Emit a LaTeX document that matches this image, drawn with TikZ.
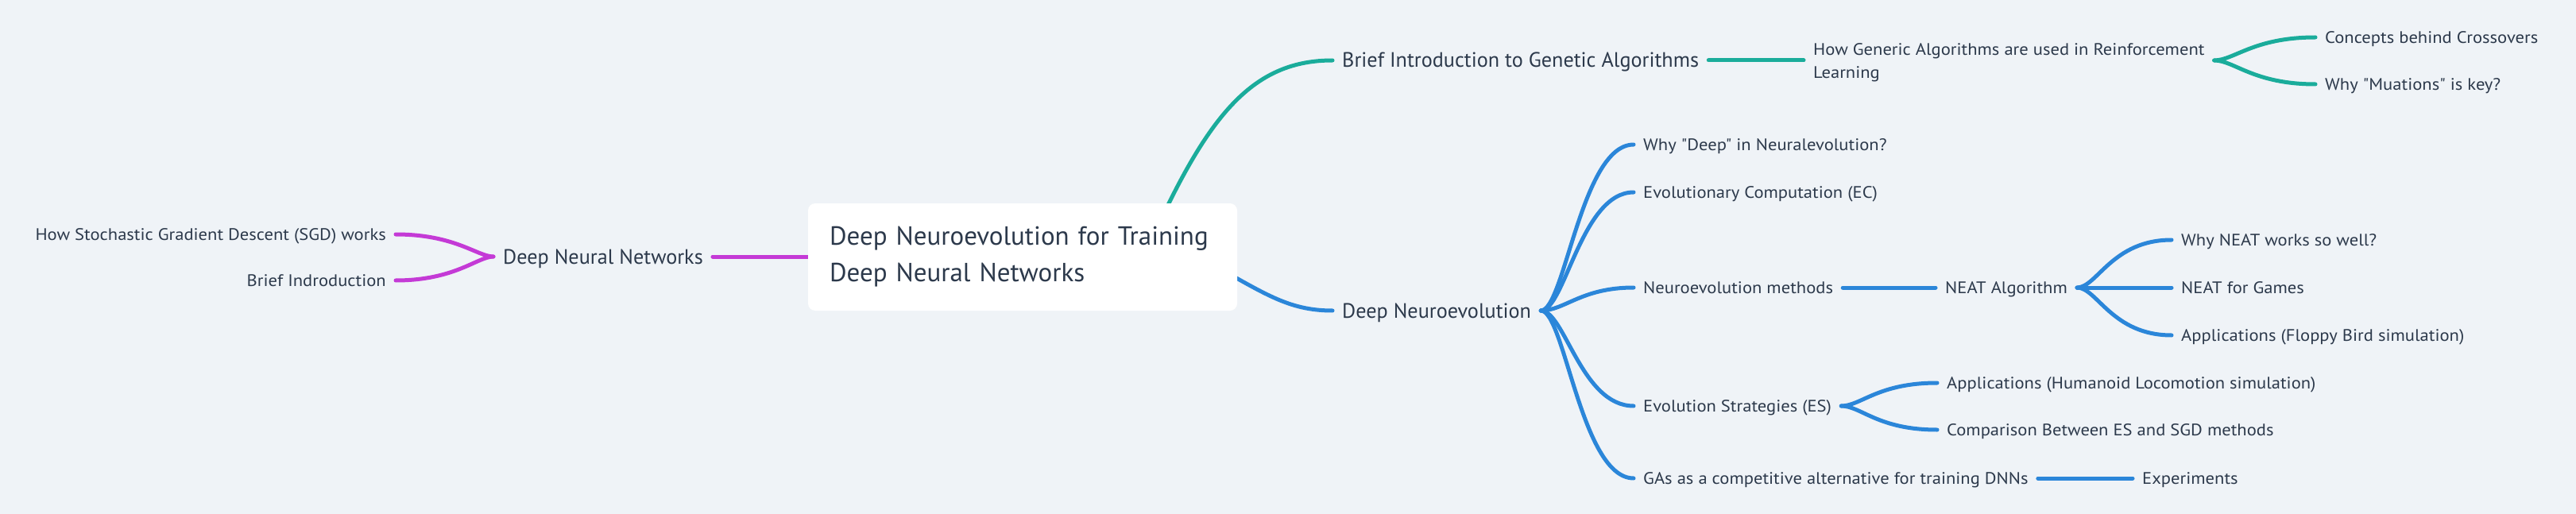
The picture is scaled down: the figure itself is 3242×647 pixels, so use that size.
\documentclass[tikz,border=0pt]{standalone}
\usepackage{fontspec}
\setmainfont{PT Sans}
\newfontfamily\smallfam[FakeStretch=1.075]{PT Sans}
\usetikzlibrary{backgrounds,calc}
\definecolor{bgc}{RGB}{239,243,247}
\definecolor{ink}{RGB}{44,57,75}
\definecolor{tealc}{RGB}{26,172,155}
\definecolor{bluec}{RGB}{43,134,217}
\definecolor{magc}{RGB}{196,58,214}
\newcommand\fsS{\smallfam\fontsize{21pt}{29pt}\selectfont}
\newcommand\fsM{\fontsize{26.2pt}{32pt}\selectfont}
\newcommand\fsL{\fontsize{33pt}{46pt}\selectfont}
\tikzset{
  lbl/.style={font=\fsS, text=ink, inner xsep=12pt, inner ysep=0pt, text height=14.5pt, text depth=0pt},
  lblM/.style={font=\fsM, text=ink, inner xsep=12pt, inner ysep=0pt, text height=18pt, text depth=0pt},
  conn/.style={line width=5pt, line cap=round},
  tl/.style={conn, draw=tealc},
  bl/.style={conn, draw=bluec},
  ml/.style={conn, draw=magc},
  rootbox/.style={fill=white, rounded corners=9pt, font=\fsL, text=ink, align=left,
     text width=486pt, inner xsep=27pt, minimum height=135pt, inner ysep=0pt},
}
\begin{document}
\begin{tikzpicture}[x=1pt,y=-1pt]
\useasboundingbox (0,0) rectangle (3242,647);
% nodes
\node[rootbox] (root) at (1287,323.5) {Deep Neuroevolution for Training\\Deep Neural Networks};
\node[lblM, anchor=west] (dnn) at (621,323) {Deep Neural Networks};
\node[lbl, anchor=east] (sgd) at (498,295) {How Stochastic Gradient Descent (SGD) works};
\node[lbl, anchor=east] (bi) at (498,353) {Brief Indroduction};
\node[lblM, anchor=west] (ga) at (1677,76) {Brief Introduction to Genetic Algorithms};
\node[font=\fsS, text=ink, align=left, inner xsep=12pt, inner ysep=0pt, anchor=west] (howga) at (2270,79) {How Generic Algorithms are used in Reinforcement\\Learning};
\node[lbl, anchor=west] (cx) at (2914,47) {Concepts behind Crossovers};
\node[lbl, anchor=west] (mu) at (2914,106) {Why "Muations" is key?};
\node[lblM, anchor=west] (dne) at (1677,391) {Deep Neuroevolution};
\node[lbl, anchor=west] (wd) at (2056,182) {Why "Deep" in Neuralevolution?};
\node[lbl, anchor=west] (ec) at (2056,242) {Evolutionary Computation (EC)};
\node[lbl, anchor=west] (nm) at (2056,362) {Neuroevolution methods};
\node[lbl, anchor=west] (neat) at (2436,362) {NEAT Algorithm};
\node[lbl, anchor=west] (wn) at (2733,302) {Why NEAT works so well?};
\node[lbl, anchor=west] (ng) at (2733,362) {NEAT for Games};
\node[lbl, anchor=west] (fb) at (2733,422) {Applications (Floppy Bird simulation)};
\node[lbl, anchor=west] (es) at (2056,511) {Evolution Strategies (ES)};
\node[lbl, anchor=west] (hl) at (2438,482) {Applications (Humanoid Locomotion simulation)};
\node[lbl, anchor=west] (cmp) at (2438,541) {Comparison Between ES and SGD methods};
\node[lbl, anchor=west] (gas) at (2056,602) {GAs as a competitive alternative for training DNNs};
\node[lbl, anchor=west] (exp) at (2684,602) {Experiments};
\coordinate (rt) at (1458,283);
\coordinate (rb) at (1520,330);
\coordinate (hg) at (howga.east |- ga.east);
\begin{pgfonlayer}{background}
\fill[bgc] (0,0) rectangle (3242,647);
% magenta
\draw[ml] (dnn.east) -- (root.west |- dnn.east);
\draw[ml] (dnn.west) .. controls +(-20,0) and +(75,0) .. (sgd.east);
\draw[ml] (dnn.west) .. controls +(-20,0) and +(75,0) .. (bi.east);
% teal
\draw[tl] (rt) .. controls +(67,-143) and +(-97,0) .. (ga.west);
\draw[tl] (ga.east) -- (ga.east -| howga.west);
\draw[tl] (hg) .. controls +(25,0) and +(-78,0) .. (cx.west);
\draw[tl] (hg) .. controls +(25,0) and +(-78,0) .. (mu.west);
% blue
\draw[bl] (rb) .. controls +(70,38) and +(-57,0) .. (dne.west);
\foreach \c in {wd,ec,nm,es,gas}
  \draw[bl] (dne.east) .. controls +(30,0) and +(-66,0) .. (\c.west);
\draw[bl] (nm.east) -- (neat.west);
\foreach \c in {wn,ng,fb}
  \draw[bl] (neat.east) .. controls +(25,0) and +(-75,0) .. (\c.west);
\foreach \c in {hl,cmp}
  \draw[bl] (es.east) .. controls +(25,0) and +(-75,0) .. (\c.west);
\draw[bl] (gas.east) -- (exp.west);
\end{pgfonlayer}
\end{tikzpicture}
\end{document}
